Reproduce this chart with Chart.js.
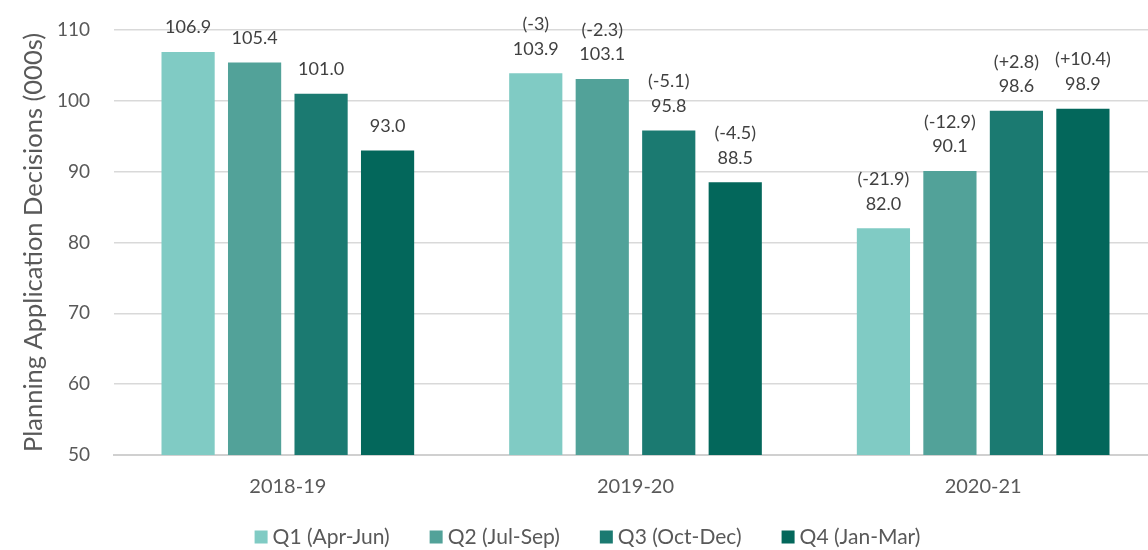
<!DOCTYPE html>
<html>
<head>
<meta charset="utf-8">
<script src="https://cdn.jsdelivr.net/npm/chart.js@4"></script>
<style>
  html, body { margin: 0; padding: 0; background: #ffffff; overflow: hidden; }
  #wrap { width: 1175px; height: 550px; }
</style>
</head>
<body>
<div id="wrap"><canvas id="decisionsChart" width="1175" height="550"></canvas></div>
<script>
// Planning application decisions by quarter (thousands)
const categories = ['2018-19', '2019-20', '2020-21'];
const quarterNames = ['Q1 (Apr-Jun)', 'Q2 (Jul-Sep)', 'Q3 (Oct-Dec)', 'Q4 (Jan-Mar)'];

const q1Values = [106.9, 103.9, 82.0];
const q2Values = [105.4, 103.1, 90.1];
const q3Values = [101.0, 95.8, 98.6];
const q4Values = [93.0, 88.5, 98.9];

// change on the same quarter of the previous year
const q1Change = [null, -3, -21.9];
const q2Change = [null, -2.3, -12.9];
const q3Change = [null, -5.1, 2.8];
const q4Change = [null, -4.5, 10.4];

const yMin = 50;
const yMax = 110;
const yStep = 10;

const quarterColors = ['#80cbc4', '#52a299', '#1b7a71', '#03675b'];

const FONT = 'Lato, "Open Sans", sans-serif';

document.addEventListener('DOMContentLoaded', () => {
    initDecisionsChart();
});

function fmtChange(v) {
    if (v === null || v === undefined) return '';
    return '(' + (v > 0 ? '+' + v : String(v)) + ')';
}

// value (and change) labels above every bar
const barLabels = {
    id: 'barLabels',
    afterDatasetsDraw(chart) {
        const ctx = chart.ctx;
        ctx.save();
        ctx.font = '18px ' + FONT;
        ctx.fillStyle = '#404040';
        ctx.textAlign = 'center';
        ctx.textBaseline = 'middle';
        chart.data.datasets.forEach((ds, i) => {
            const meta = chart.getDatasetMeta(i);
            meta.data.forEach((bar, j) => {
                const v = ds.data[j];
                ctx.fillText(v.toFixed(1), bar.x, bar.y - 24.5);
                const c = fmtChange(ds.changes[j]);
                if (c) ctx.fillText(c, bar.x, bar.y - 49);
            });
        });
        ctx.restore();
    }
};

// single-row legend under the x axis, tighter box/text gap than the built-in one
const quarterLegend = {
    id: 'quarterLegend',
    afterDraw(chart, args, opts) {
        const ctx = chart.ctx;
        const datasets = chart.data.datasets;
        ctx.save();
        ctx.font = opts.fontSize + 'px ' + FONT;
        ctx.textBaseline = 'middle';
        ctx.textAlign = 'left';

        const widths = datasets.map(ds => opts.box + opts.gap + ctx.measureText(ds.label).width);
        const total = widths.reduce((a, b) => a + b, 0) + opts.spacing * (datasets.length - 1);
        let x = chart.width / 2 - total / 2;
        const y = opts.y;

        datasets.forEach((ds, i) => {
            ctx.fillStyle = ds.backgroundColor;
            ctx.fillRect(x, y - opts.box / 2, opts.box, opts.box);
            ctx.fillStyle = opts.color;
            ctx.fillText(ds.label, x + opts.box + opts.gap, y);
            x += widths[i] + opts.spacing;
        });
        ctx.restore();
    }
};

function initDecisionsChart() {
    const ctx = document.getElementById('decisionsChart');

    const allValues = [q1Values, q2Values, q3Values, q4Values];
    const allChanges = [q1Change, q2Change, q3Change, q4Change];

    const datasets = quarterNames.map((name, i) => ({
        label: name,
        data: allValues[i],
        changes: allChanges[i],
        backgroundColor: quarterColors[i],
        borderWidth: 0,
        categoryPercentage: 0.765,
        barPercentage: 0.8
    }));

    new Chart(ctx, {
        type: 'bar',
        data: {
            labels: categories,
            datasets: datasets
        },
        options: {
            responsive: false,
            animation: false,
            devicePixelRatio: 1,
            layout: {
                padding: { top: 30, right: 18, left: 0, bottom: 31 }
            },
            plugins: {
                tooltip: { enabled: false },
                legend: { display: false },
                quarterLegend: {
                    y: 537,
                    box: 13,
                    gap: 5,
                    spacing: 40,
                    fontSize: 21,
                    color: '#595959'
                }
            },
            scales: {
                x: {
                    grid: { display: false, drawTicks: false },
                    border: { color: '#d0d0d0', width: 2 },
                    ticks: {
                        padding: 20,
                        color: '#595959',
                        font: { family: FONT, size: 20 }
                    }
                },
                y: {
                    min: yMin,
                    max: yMax,
                    grid: { color: '#d9d9d9', lineWidth: 1.5, drawTicks: false },
                    border: { display: false },
                    ticks: {
                        stepSize: yStep,
                        padding: 24,
                        color: '#595959',
                        font: { family: FONT, size: 19 }
                    },
                    title: {
                        display: true,
                        text: 'Planning Application Decisions (000s)',
                        color: '#595959',
                        padding: { top: 18, bottom: 0 },
                        font: { family: FONT, size: 25.5 }
                    },
                    afterFit(scale) {
                        scale.width = 114;
                        // the tick padding is horizontal only, keep it out of the top/bottom overflow
                        scale.paddingTop = 0;
                        scale.paddingBottom = 0;
                    }
                }
            }
        },
        plugins: [barLabels, quarterLegend]
    });
}
</script>
</body>
</html>
